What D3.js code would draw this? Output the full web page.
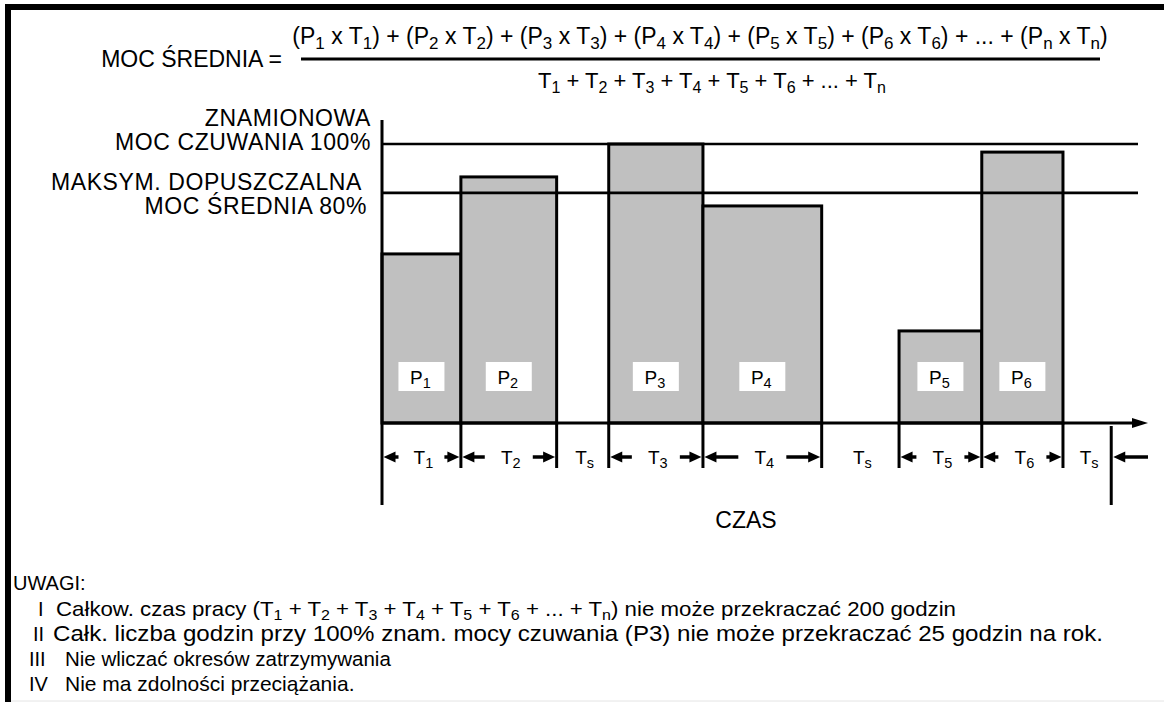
<!DOCTYPE html>
<html>
<head>
<meta charset="utf-8">
<script src="https://cdn.jsdelivr.net/npm/d3@7"></script>
<style>
  body { margin: 0; background: #fff; }
  svg { display: block; font-family: "Liberation Sans", Arial, sans-serif; }
</style>
</head>
<body>
<div id="chart"></div>
<script>
// segments along the time axis (P = operating period, Ts = stop)
const segNames = ["P1", "P2", "Ts", "P3", "P4", "Ts", "P5", "P6", "Ts"];
const timeLabels = ["T_1", "T_2", "T_s", "T_3", "T_4", "T_s", "T_5", "T_6", "T_s"];
const durations = [10.3, 12.5, 6.8, 12.3, 15.5, 10.1, 10.8, 10.6, 6.3];
const powers = [60.6, 88.2, null, 100, 77.8, null, 33, 97.1, null];

// reference levels (height on the power axis)
const refLevels = [100, 82.5];
const refLabels = [
  ["ZNAMIONOWA", "MOC CZUWANIA 100%"],
  ["MAKSYM. DOPUSZCZALNA", "MOC ŚREDNIA 80%"]
];

const numerator = "(P_1 x T_1) + (P_2 x T_2) + (P_3 x T_3) + (P_4 x T_4) + (P_5 x T_5) + (P_6 x T_6) + ... + (P_n x T_n)";
const denominator = "T_1 + T_2 + T_3 + T_4 + T_5 + T_6 + ... + T_n";

const notesTitle = "UWAGI:";
const noteNums = ["I", "II", "III", "IV"];
const noteTexts = [
  "Całkow. czas pracy (T_1 + T_2 + T_3 + T_4 + T_5 + T_6 + ... + T_n) nie może przekraczać 200 godzin",
  "Całk. liczba godzin przy 100% znam. mocy czuwania (P3) nie może przekraczać 25 godzin na rok.",
  "Nie wliczać okresów zatrzymywania",
  "Nie ma zdolności przeciążania."
];

const width = 1164, height = 702;

const svg = d3.select("#chart")
  .append("svg")
  .attr("width", width)
  .attr("height", height);

// write text with "_x" meaning a subscript character
function subText(sel, str, size, shift) {
  const parts = str.split(/_(\w)/);
  let down = false;
  parts.forEach((p, i) => {
    if (i % 2 === 0) {
      if (p === "") return;
      sel.append("tspan").attr("dy", down ? -shift : 0).text(p);
      down = false;
    } else {
      sel.append("tspan")
        .attr("dy", down ? 0 : shift)
        .attr("font-size", size)
        .text(p);
      down = true;
    }
  });
  return sel;
}

// frame
svg.append("path")
  .attr("d", `M8,${height} V7 H${width}`)
  .attr("fill", "none")
  .attr("stroke", "#000")
  .attr("stroke-width", 6);
svg.append("line")
  .attr("x1", 11).attr("x2", width)
  .attr("y1", 701).attr("y2", 701)
  .attr("stroke", "#e4e4e4");

// formula
svg.append("text")
  .attr("x", 282).attr("y", 67)
  .attr("text-anchor", "end")
  .attr("font-size", 23)
  .text("MOC ŚREDNIA =");
subText(svg.append("text")
  .attr("x", 700).attr("y", 44)
  .attr("text-anchor", "middle")
  .attr("font-size", 23), numerator, 17, 5);
svg.append("line")
  .attr("x1", 301).attr("x2", 1100)
  .attr("y1", 59).attr("y2", 59)
  .attr("stroke", "#000").attr("stroke-width", 3);
subText(svg.append("text")
  .attr("x", 712).attr("y", 88)
  .attr("text-anchor", "middle")
  .attr("font-size", 22), denominator, 16, 5);

// scales
const x = d3.scaleLinear().domain([0, 100]).range([382, 1148]);
const y = d3.scaleLinear().domain([0, 100]).range([423, 144]);

let acc = 0;
const segs = durations.map((d, i) => {
  const s = { name: segNames[i], label: timeLabels[i], t0: acc, t1: acc + d, p: powers[i] };
  acc += d;
  return s;
});
const endTime = acc;

const g = svg.append("g");

// bars
const bars = segs.filter((s) => s.p !== null);
g.selectAll("rect.bar")
  .data(bars)
  .enter()
  .append("rect")
  .attr("class", "bar")
  .attr("x", (d) => x(d.t0))
  .attr("width", (d) => x(d.t1) - x(d.t0))
  .attr("y", (d) => y(d.p))
  .attr("height", (d) => y(0) - y(d.p))
  .attr("fill", "#c0c0c0")
  .attr("stroke", "#000")
  .attr("stroke-width", 3);

// P label boxes
const boxes = g.selectAll("g.plabel")
  .data(bars)
  .enter()
  .append("g")
  .attr("class", "plabel")
  .attr("transform", (d) => `translate(${(x(d.t0) + x(d.t1)) / 2},0)`);
boxes.append("rect")
  .attr("x", -23).attr("width", 46)
  .attr("y", 362).attr("height", 29)
  .attr("fill", "#fff");
boxes.append("text")
  .attr("x", -1).attr("y", 384)
  .attr("text-anchor", "middle")
  .attr("font-size", 19)
  .each(function (d) {
    subText(d3.select(this), "P_" + d.name.slice(1), 14.5, 4);
  });

// reference lines
g.selectAll("line.ref")
  .data(refLevels)
  .enter()
  .append("line")
  .attr("class", "ref")
  .attr("x1", x(0)).attr("x2", 1138)
  .attr("y1", (d) => y(d)).attr("y2", (d) => y(d))
  .attr("stroke", "#000")
  .attr("stroke-width", 2.6);

// reference labels (two lines each)
const refPos = [
  { xs: [371, 371], y: 126 },
  { xs: [362, 367], y: 190 }
];
refLabels.forEach((lines, k) => {
  const t = svg.append("text")
    .attr("y", refPos[k].y)
    .attr("text-anchor", "end")
    .attr("font-size", 23)
    .attr("letter-spacing", 0.6);
  lines.forEach((l, i) => {
    t.append("tspan")
      .attr("x", refPos[k].xs[i])
      .attr("dy", i === 0 ? 0 : 24)
      .text(l);
  });
});

// axes
g.append("line")
  .attr("x1", x(0)).attr("x2", x(0))
  .attr("y1", 120).attr("y2", 505)
  .attr("stroke", "#000").attr("stroke-width", 3);
g.append("line")
  .attr("x1", x(0)).attr("x2", x(100) - 12)
  .attr("y1", y(0)).attr("y2", y(0))
  .attr("stroke", "#000").attr("stroke-width", 3);
g.append("path")
  .attr("d", `M${x(100)},${y(0)} l-16,-5 v10 z`)
  .attr("fill", "#000");

// time dimension row
const tickTop = y(0), tickBot = 468, arrowY = 457;
const bounds = segs.map((s) => s.t1).slice(0, -1);
g.selectAll("line.tick")
  .data(bounds)
  .enter()
  .append("line")
  .attr("class", "tick")
  .attr("x1", (d) => x(d)).attr("x2", (d) => x(d))
  .attr("y1", tickTop).attr("y2", tickBot)
  .attr("stroke", "#000").attr("stroke-width", 3);
g.append("line")
  .attr("x1", x(endTime)).attr("x2", x(endTime))
  .attr("y1", tickTop + 3).attr("y2", 505)
  .attr("stroke", "#000").attr("stroke-width", 3);

function arrow(tipX, dir, len) {
  // dir = -1 points left, 1 points right
  g.append("line")
    .attr("x1", tipX - dir * 8).attr("x2", tipX - dir * len)
    .attr("y1", arrowY).attr("y2", arrowY)
    .attr("stroke", "#000").attr("stroke-width", 3.5);
  g.append("path")
    .attr("d", `M${tipX},${arrowY} l${-dir * 12},-5.5 v11 z`)
    .attr("fill", "#000");
}

segs.forEach((s) => {
  const a = x(s.t0) + 1.5, b = x(s.t1) - 1.5;
  const cx = (x(s.t0) + x(s.t1)) / 2;
  if (s.p !== null) {
    const len = Math.max(15, (b - a - 48) / 2);
    arrow(a, -1, len);
    arrow(b, 1, len);
  }
  subText(g.append("text")
    .attr("x", cx + 2).attr("y", 464)
    .attr("text-anchor", "middle")
    .attr("font-size", 19), s.label, 14.5, 4);
});
arrow(x(endTime) + 2, -1, x(100) - x(endTime) - 2);

svg.append("text")
  .attr("x", 746).attr("y", 528)
  .attr("text-anchor", "middle")
  .attr("font-size", 23)
  .text("CZAS");

// notes
svg.append("text")
  .attr("x", 13).attr("y", 590)
  .attr("font-size", 20)
  .text(notesTitle);
const numX = [38, 33, 29, 29];
const txtX = [56, 53, 65, 65];
const noteSize = [21, 21.5, 20.5, 21];
const noteLen = [900, 1050, null, null];
noteTexts.forEach((t, i) => {
  const yy = 616 + i * 25;
  svg.append("text")
    .attr("x", numX[i]).attr("y", yy)
    .attr("font-size", 20)
    .text(noteNums[i]);
  const tx = svg.append("text")
    .attr("x", txtX[i]).attr("y", yy)
    .attr("font-size", noteSize[i]);
  if (noteLen[i]) {
    tx.attr("textLength", noteLen[i]).attr("lengthAdjust", "spacingAndGlyphs");
  }
  subText(tx, t, noteSize[i] * 0.72, 4);
});
</script>
</body>
</html>
